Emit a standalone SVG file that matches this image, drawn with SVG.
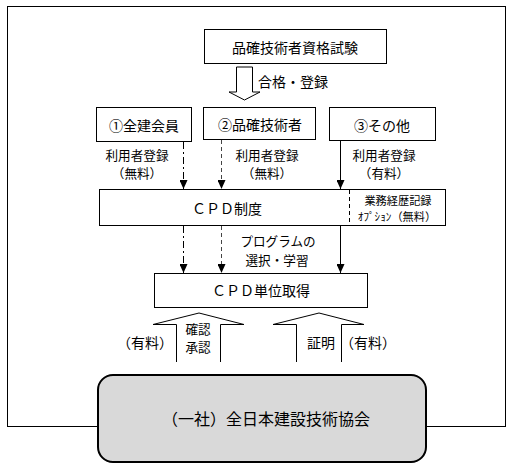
<svg xmlns="http://www.w3.org/2000/svg" width="515" height="470" viewBox="0 0 515 470">
<style>
text{font-family:"Noto Sans CJK JP","Noto Sans",sans-serif;font-size:14px;fill:#000;text-anchor:middle;dominant-baseline:central}
.box{fill:#fff;stroke:#000;stroke-width:1}
.sm{font-size:11.2px}
.md{font-size:12.6px}
.big{font-size:16px}
.ln{stroke:#000;stroke-width:1;fill:none}
.dd{stroke-dasharray:7,3,2,3}
.ds{stroke-dasharray:4,3;stroke:#444}
.ha{fill:#fff;stroke:#000;stroke-width:1}
</style>
<defs>
<marker id="ah" viewBox="0 0 9 8" refX="9" refY="4" markerWidth="9" markerHeight="8" markerUnits="userSpaceOnUse" orient="auto">
<path d="M0,0 L9,4 L0,8 Z" fill="#000"/>
</marker>
</defs>
<rect id="frame" x="7.5" y="6.5" width="498" height="420" fill="#fff" stroke="#000"/>
<g id="exam"><rect class="box" x="204.5" y="29.5" width="182" height="34"/><text x="295" y="47">品確技術者資格試験</text></g>
<g id="member1"><rect class="box" x="96.5" y="107.5" width="95" height="34"/><text x="144" y="125">①全建会員</text></g>
<g id="member2"><rect class="box" x="203.5" y="107.5" width="112" height="32"/><text x="260" y="124">②品確技術者</text></g>
<g id="member3"><rect class="box" x="329.5" y="107.5" width="106" height="33"/><text x="382" y="125">③その他</text></g>
<g id="cpd"><rect class="box" x="99.5" y="189.5" width="346" height="36"/><line x1="349.5" y1="190" x2="349.5" y2="225" stroke="#000" stroke-dasharray="4,3"/><text x="227" y="208">ＣＰＤ制度</text><text class="sm" x="398" y="199.5">業務経歴記録</text><text class="sm" x="397" y="216">ｵﾌﾟｼｮﾝ（無料）</text></g>
<g id="unit"><rect class="box" x="154.5" y="273.5" width="213" height="34"/><text x="261" y="290">ＣＰＤ単位取得</text></g>
<g id="assoc"><rect x="98" y="375" width="328" height="87" rx="15" fill="#d9d9d9" stroke="#000" stroke-width="2"/><text class="big" x="266" y="418">（一社）全日本建設技術協会</text></g>
<g id="connectors">
<path class="ha" d="M236.5,67 H252.5 V92 H260 L244.5,100 L229,92 H236.5 Z"/>
<text x="293" y="81">合格・登録</text>
<line class="ln dd" x1="183.5" y1="142" x2="183.5" y2="189" marker-end="url(#ah)"/>
<line class="ln ds" x1="221.5" y1="140" x2="221.5" y2="189" marker-end="url(#ah)"/>
<line class="ln" x1="340.5" y1="141" x2="340.5" y2="189" marker-end="url(#ah)"/>
<text class="md" x="137" y="154">利用者登録</text><text class="md" x="137" y="172.5">（無料）</text>
<text class="md" x="267" y="154">利用者登録</text><text class="md" x="267" y="172.5">（無料）</text>
<text class="md" x="384" y="154">利用者登録</text><text class="md" x="384" y="172.5">（有料）</text>
<line class="ln dd" x1="183.5" y1="226" x2="183.5" y2="273" marker-end="url(#ah)"/>
<line class="ln ds" x1="221.5" y1="226" x2="221.5" y2="273" marker-end="url(#ah)"/>
<line class="ln" x1="340.5" y1="226" x2="340.5" y2="273" marker-end="url(#ah)"/>
<text class="md" x="278" y="240.5">プログラムの</text><text class="md" x="277" y="259">選択・学習</text>
<path class="ha" d="M176.5,362 V324.5 H153 L199,313 L244,324.5 H220.5 V362"/>
<text class="md" x="198" y="328">確認</text><text class="md" x="198" y="346.5">承認</text>
<path class="ha" d="M296.5,362 V324.5 H273 L319,313 L364,324.5 H341.5 V362"/>
<text x="321" y="342">証明</text>
<text x="145" y="342">（有料）</text><text x="368" y="342">（有料）</text>
</g>
</svg>
